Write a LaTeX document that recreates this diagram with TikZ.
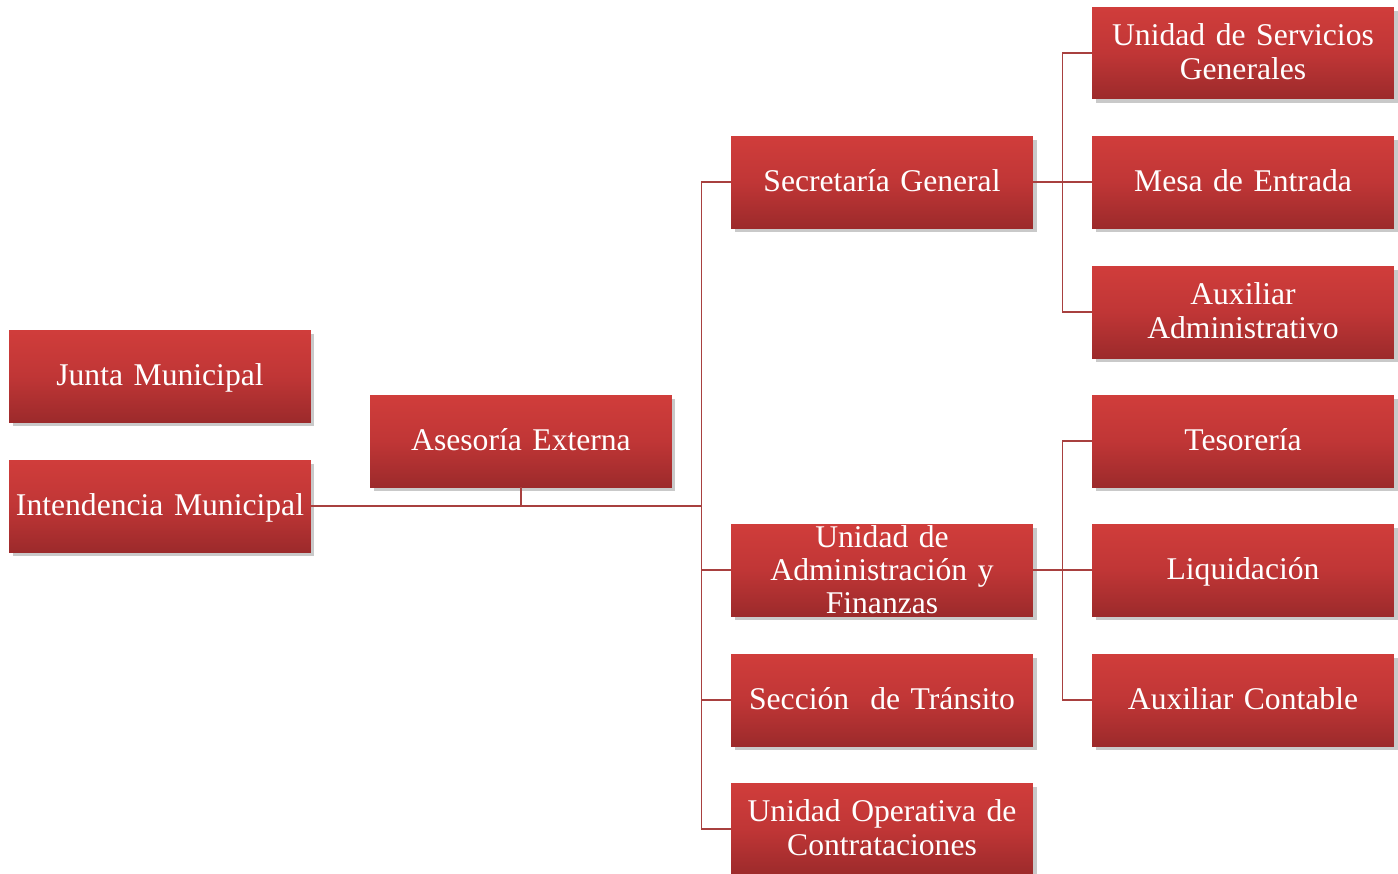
\documentclass[tikz,border=0pt]{standalone}
\usepackage{xcolor}
\usepackage{tikz}
\usepackage{fontspec}
\setmainfont{Liberation Serif}
\usetikzlibrary{shadows,calc}
\definecolor{boxtop}{RGB}{208, 61, 59}
\definecolor{boxmid}{RGB}{192, 54, 54}
\definecolor{boxbottom}{RGB}{156, 42, 43}
\definecolor{linkred}{RGB}{168, 64, 63}
\newcommand{\boxstrut}{\rule[-0.2em]{0pt}{1em}}

\begin{document}
\begin{tikzpicture}[x=0.02cm, y=-0.02cm,
  unitbox/.style={rectangle, minimum width=6.04cm, minimum height=1.84cm,
    text width=5.8cm, align=center, inner sep=0pt,
    top color=boxtop, bottom color=boxbottom, middle color=boxmid,
    text=white, font=\fontsize{18}{18.8}\selectfont,
    drop shadow={opacity=0.3, shadow xshift=2pt, shadow yshift=-2.5pt, fill=black!70}},
  unit/.style={unitbox, execute at begin node=\boxstrut, execute at end node=\boxstrut},
  link/.style={draw=linkred, line width=1.1pt}
]
\useasboundingbox (0,0) rectangle (1398,873);

% left column
\node[unit] (junta) at (160,376) {Junta Municipal};
\node[unit] (intend) at (160,506) {Intendencia Municipal};
\node[unit] (asesoria) at (521,441) {Asesoría Externa};

% middle column
\node[unit] (secgen) at (882,182) {Secretaría General};
\node[unitbox] (admfin) at (882,570) {Unidad de\\Administración y\\Finanzas};
\node[unit] (transito) at (882,700) {Sección\ \ de Tránsito};
\node[unit] (contrat) at (882,829) {Unidad Operativa de\\Contrataciones};

% right column
\node[unit] (servgen) at (1243,53) {Unidad de Servicios\\Generales};
\node[unit] (mesa) at (1243,182) {Mesa de Entrada};
\node[unit] (auxadm) at (1243,312) {Auxiliar\\Administrativo};
\node[unit] (tesoreria) at (1243,441) {Tesorería};
\node[unit] (liquid) at (1243,570) {Liquidación};
\node[unit] (auxcont) at (1243,700) {Auxiliar Contable};

% connectors
\coordinate (trunk) at ($(asesoria.east)!0.5!(secgen.west |- asesoria.east)$);
\coordinate (trunk) at (trunk |- intend.east);
\coordinate (splitsec) at ($(secgen.east)!0.5!(mesa.west)$);
\coordinate (splitadm) at ($(admfin.east)!0.5!(liquid.west)$);

\draw[link] (intend.east) -- (trunk);
\draw[link] (asesoria.south) -- (asesoria.south |- trunk);
\draw[link] (trunk) |- (secgen.west);
\draw[link] (trunk) |- (admfin.west);
\draw[link] (trunk) |- (transito.west);
\draw[link] (trunk) |- (contrat.west);

\draw[link] (secgen.east) -- (mesa.west);
\draw[link] (splitsec) |- (servgen.west);
\draw[link] (splitsec) |- (auxadm.west);

\draw[link] (admfin.east) -- (liquid.west);
\draw[link] (splitadm) |- (tesoreria.west);
\draw[link] (splitadm) |- (auxcont.west);
\end{tikzpicture}
\end{document}
